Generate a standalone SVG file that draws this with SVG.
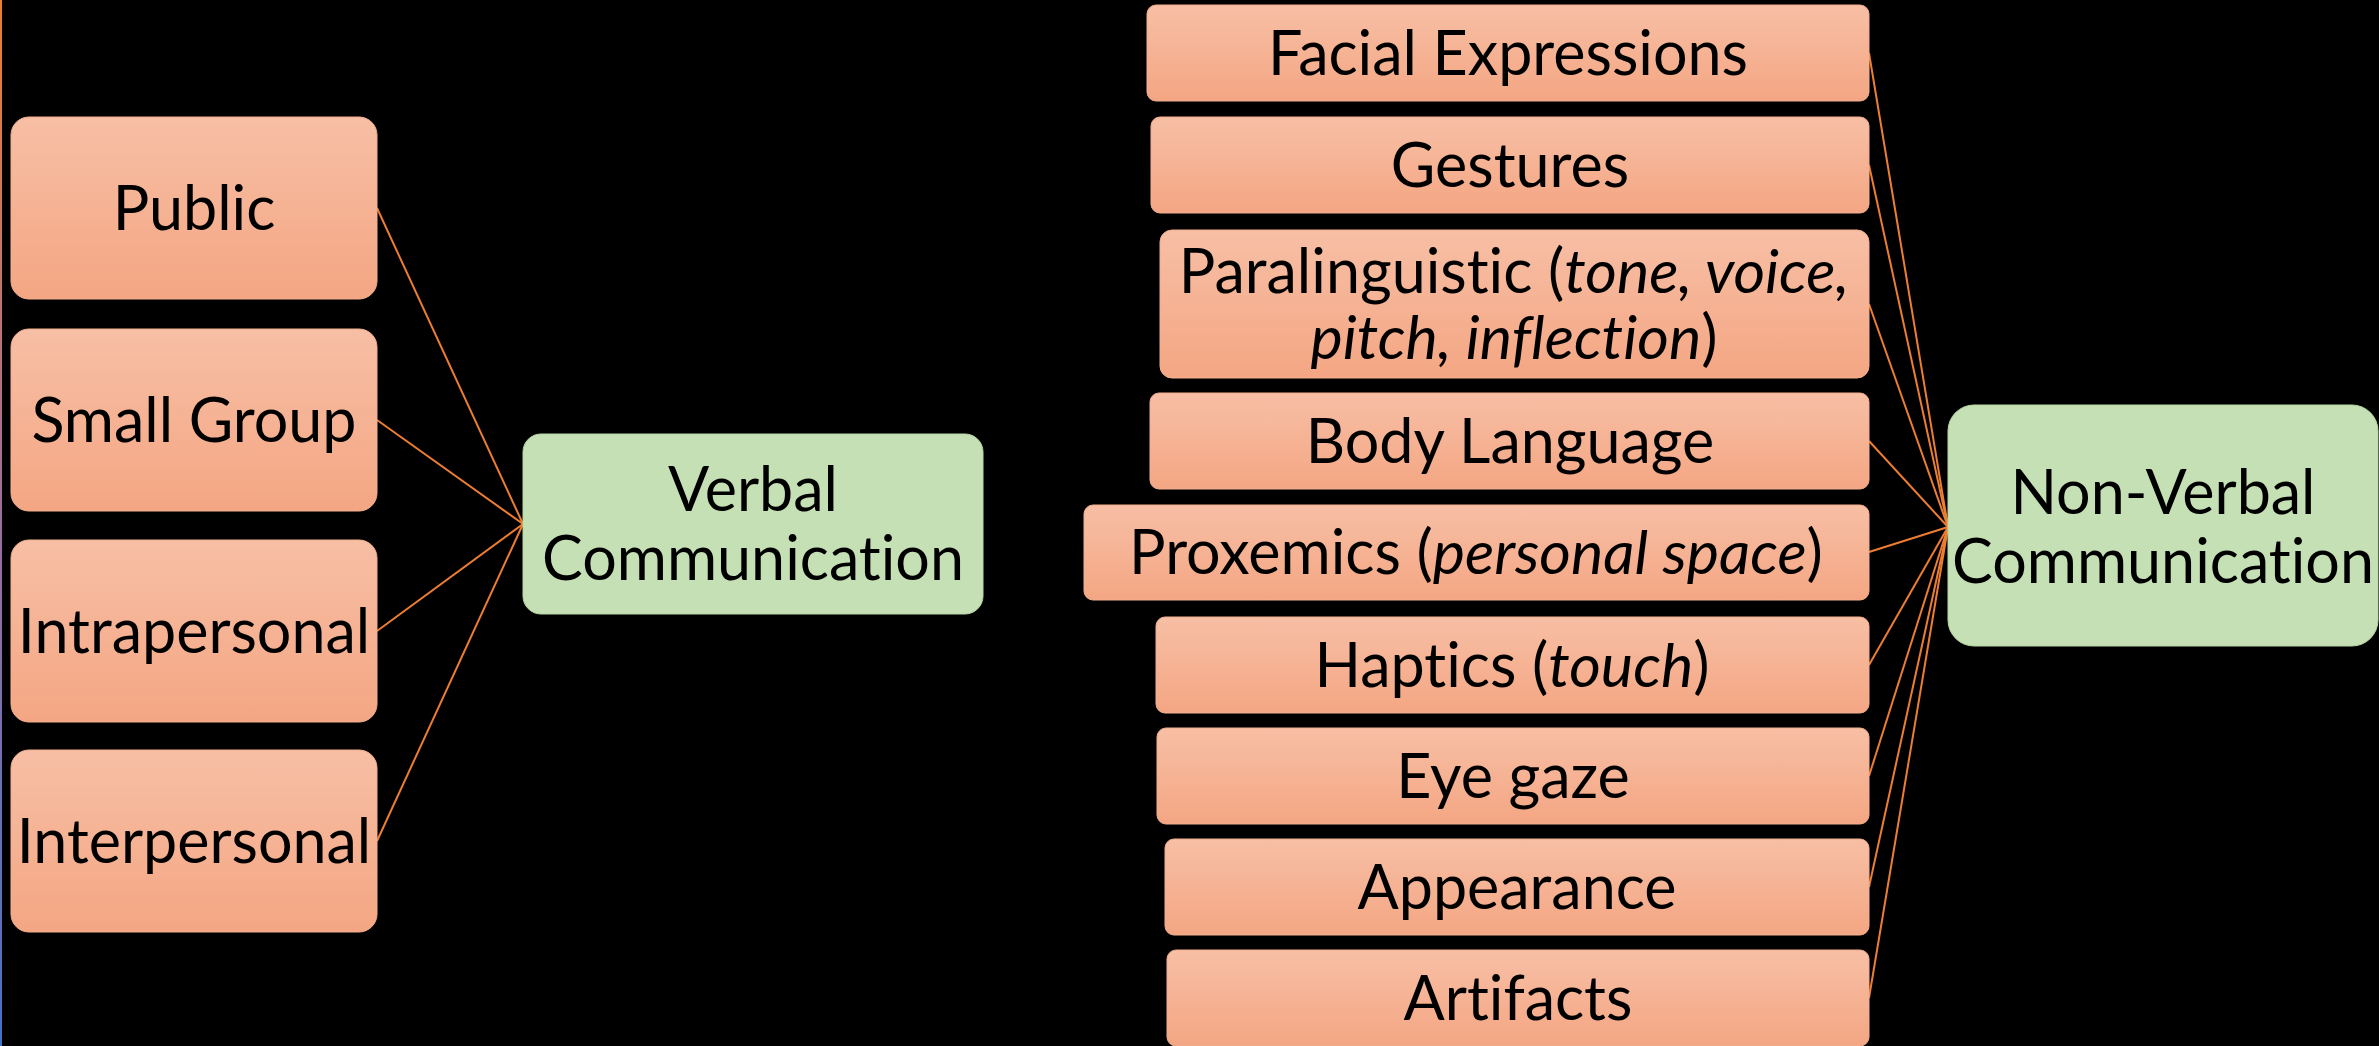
<svg xmlns="http://www.w3.org/2000/svg" width="2379" height="1046" viewBox="0 0 2379 1046">
  <defs>
    <linearGradient id="peach" x1="0" y1="0" x2="0" y2="1">
      <stop offset="0" stop-color="#F7BFA5"/>
      <stop offset="1" stop-color="#F4A683"/>
    </linearGradient>
    <linearGradient id="edge" x1="0" y1="0" x2="0" y2="1">
      <stop offset="0" stop-color="#ED7D31"/>
      <stop offset="0.5" stop-color="#9B6E9E"/>
      <stop offset="1" stop-color="#4472C4"/>
    </linearGradient>
    <style>
      .leaf { fill: url(#peach); stroke: #F2AE8E; stroke-width: 1; }
      .hub { fill: #C5E0B4; stroke: #B7D6A3; stroke-width: 1; }
      .t { font-family: Lato, "Open Sans", sans-serif; font-size: 61px; fill: #000; text-anchor: middle; font-variant-ligatures: none; font-feature-settings: "liga" 0, "clig" 0; }
      .i { font-style: italic; }
      .conn line { stroke: #ED7D31; stroke-width: 2; }
    </style>
  </defs>
  <rect x="0" y="0" width="2379" height="1046" fill="#000"/>
  <rect x="0" y="0" width="2" height="1046" fill="url(#edge)"/>

  <g id="connectors" class="conn">
    <line x1="377" y1="208" x2="523" y2="524"/>
    <line x1="377" y1="420" x2="523" y2="524"/>
    <line x1="377" y1="631" x2="523" y2="524"/>
    <line x1="377" y1="841" x2="523" y2="524"/>
    <line x1="1869" y1="53" x2="1948" y2="527"/>
    <line x1="1869" y1="165" x2="1948" y2="527"/>
    <line x1="1869" y1="304" x2="1948" y2="527"/>
    <line x1="1869" y1="441" x2="1948" y2="527"/>
    <line x1="1869" y1="552" x2="1948" y2="527"/>
    <line x1="1869" y1="665" x2="1948" y2="527"/>
    <line x1="1869" y1="776" x2="1948" y2="527"/>
    <line x1="1869" y1="887" x2="1948" y2="527"/>
    <line x1="1869" y1="998" x2="1948" y2="527"/>
  </g>

  <g id="public">
    <rect class="leaf" x="11" y="117" width="366" height="182" rx="18"/>
    <text class="t" x="194" y="230">Public</text>
  </g>
  <g id="small-group">
    <rect class="leaf" x="11" y="329" width="366" height="182" rx="18"/>
    <text class="t" x="194" y="442">Small Group</text>
  </g>
  <g id="intrapersonal">
    <rect class="leaf" x="11" y="540" width="366" height="182" rx="18"/>
    <text class="t" x="194" y="653">Intrapersonal</text>
  </g>
  <g id="interpersonal">
    <rect class="leaf" x="11" y="750" width="366" height="182" rx="18"/>
    <text class="t" x="194" y="863">Interpersonal</text>
  </g>

  <g id="verbal">
    <rect class="hub" x="523" y="434" width="460" height="180" rx="18"/>
    <text class="t" x="753" y="511">Verbal</text>
    <text class="t" x="753" y="580">Communication</text>
  </g>

  <g id="facial">
    <rect class="leaf" x="1147" y="5" width="722" height="96" rx="9"/>
    <text class="t" x="1508" y="75">Facial Expressions</text>
  </g>
  <g id="gestures">
    <rect class="leaf" x="1151" y="117" width="718" height="96" rx="9"/>
    <text class="t" x="1510" y="187">Gestures</text>
  </g>
  <g id="paralinguistic">
    <rect class="leaf" x="1160" y="230" width="709" height="148" rx="12"/>
    <text class="t" x="1514" y="293">Paralinguistic (<tspan class="i">tone, voice,</tspan></text>
    <text class="t" x="1514" y="359"><tspan class="i">pitch, inflection</tspan>)</text>
  </g>
  <g id="body-language">
    <rect class="leaf" x="1150" y="393" width="719" height="96" rx="9"/>
    <text class="t" x="1510" y="463">Body Language</text>
  </g>
  <g id="proxemics">
    <rect class="leaf" x="1084" y="505" width="785" height="95" rx="9"/>
    <text class="t" x="1476" y="574">Proxemics (<tspan class="i">personal space</tspan>)</text>
  </g>
  <g id="haptics">
    <rect class="leaf" x="1156" y="617" width="713" height="96" rx="9"/>
    <text class="t" x="1512" y="687">Haptics (<tspan class="i">touch</tspan>)</text>
  </g>
  <g id="eye-gaze">
    <rect class="leaf" x="1157" y="728" width="712" height="96" rx="9"/>
    <text class="t" x="1513" y="798">Eye gaze</text>
  </g>
  <g id="appearance">
    <rect class="leaf" x="1165" y="839" width="704" height="96" rx="9"/>
    <text class="t" x="1517" y="909">Appearance</text>
  </g>
  <g id="artifacts">
    <rect class="leaf" x="1167" y="950" width="702" height="96" rx="9"/>
    <text class="t" x="1518" y="1020">Artifacts</text>
  </g>

  <g id="non-verbal">
    <rect class="hub" x="1948" y="405" width="430" height="241" rx="26"/>
    <text class="t" x="2163" y="514">Non-Verbal</text>
    <text class="t" x="2163" y="583">Communication</text>
  </g>
</svg>
